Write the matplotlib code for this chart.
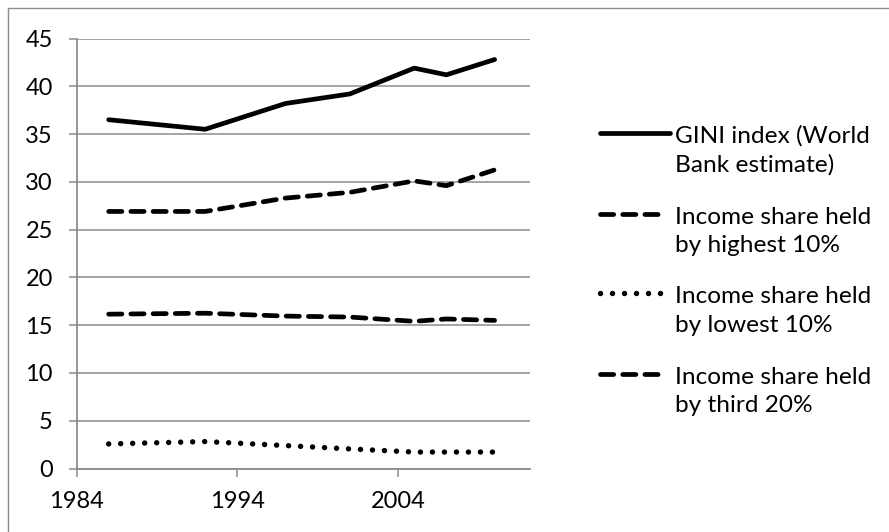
import matplotlib
matplotlib.use("Agg")
import matplotlib.pyplot as plt
from matplotlib.lines import Line2D
from matplotlib.patches import Rectangle

years = [1986, 1992, 1997, 2001, 2005, 2007, 2010]
gini = [36.5, 35.5, 38.2, 39.2, 41.9, 41.2, 42.8]
top10 = [26.9, 26.9, 28.3, 28.9, 30.1, 29.6, 31.25]
low10 = [2.57, 2.82, 2.4, 2.05, 1.72, 1.72, 1.72]
third20 = [16.15, 16.25, 15.95, 15.85, 15.4, 15.65, 15.5]
labels = ["GINI index (World\nBank estimate)",
          "Income share held\nby highest 10%",
          "Income share held\nby lowest 10%",
          "Income share held\nby third 20%"]
x_ticks = [1984, 1994, 2004]
y_ticks = [0, 5, 10, 15, 20, 25, 30, 35, 40, 45]

plt.rcParams['font.family'] = ['Lato', 'DejaVu Sans']
W, H = 889, 532
FS = 17
fig = plt.figure(figsize=(W/100, H/100), dpi=100)
ax = fig.add_axes([76.5/W, 1-468.5/H, (530-76.5)/W, (468.5-38.5)/H])

lw = 3.4
solid = dict(linestyle='-', solid_capstyle='round', lw=lw)
dash = dict(linestyle=(0, (2.8, 1.9)), dash_capstyle='round', lw=lw)
dot = dict(linestyle=(0, (0.01, 2.2)), dash_capstyle='round', lw=lw*1.15)
styles = [solid, dash, dot, dash]
series = [gini, top10, low10, third20]
for s, st in zip(series, styles):
    ax.plot(years, s, color='black', solid_joinstyle='round', **st)

ax.set_xlim(1984, 2012.2)
ax.set_ylim(0, 45)
ax.set_xticks(x_ticks)
ax.set_yticks(y_ticks)
ax.yaxis.grid(True, color='#8c8c8c', lw=1.1)
ax.set_axisbelow(True)
for sp in ['top', 'right']:
    ax.spines[sp].set_visible(False)
for sp in ['left', 'bottom']:
    ax.spines[sp].set_color('#8c8c8c')
    ax.spines[sp].set_linewidth(1.3)
ax.tick_params(axis='both', colors='#8c8c8c', labelcolor='black', labelsize=FS,
               width=1.1)
ax.tick_params(axis='y', length=6, pad=11)
ax.tick_params(axis='x', length=5.5, pad=11)

# legend
leg_y = [133, 214, 293, 374]
for k, (lab, st, y) in enumerate(zip(labels, styles, leg_y)):
    yy = 1 - y/H
    x1 = 670 if k == 0 else 661
    fig.add_artist(Line2D([600/W, x1/W], [yy, yy], color='black', **st))
    for i, part in enumerate(lab.split('\n')):
        fig.text(675/W, 1 - (y + 10 + 28.5*i)/H, part, fontsize=17.6,
                 va='baseline', ha='left')

fig.add_artist(Rectangle((8/W, -0.1), 1.2, 1 - 8/H + 0.1, transform=fig.transFigure,
                         fill=False, edgecolor='#8c8c8c', lw=1.0))
fig.savefig('out.png', dpi=100)
